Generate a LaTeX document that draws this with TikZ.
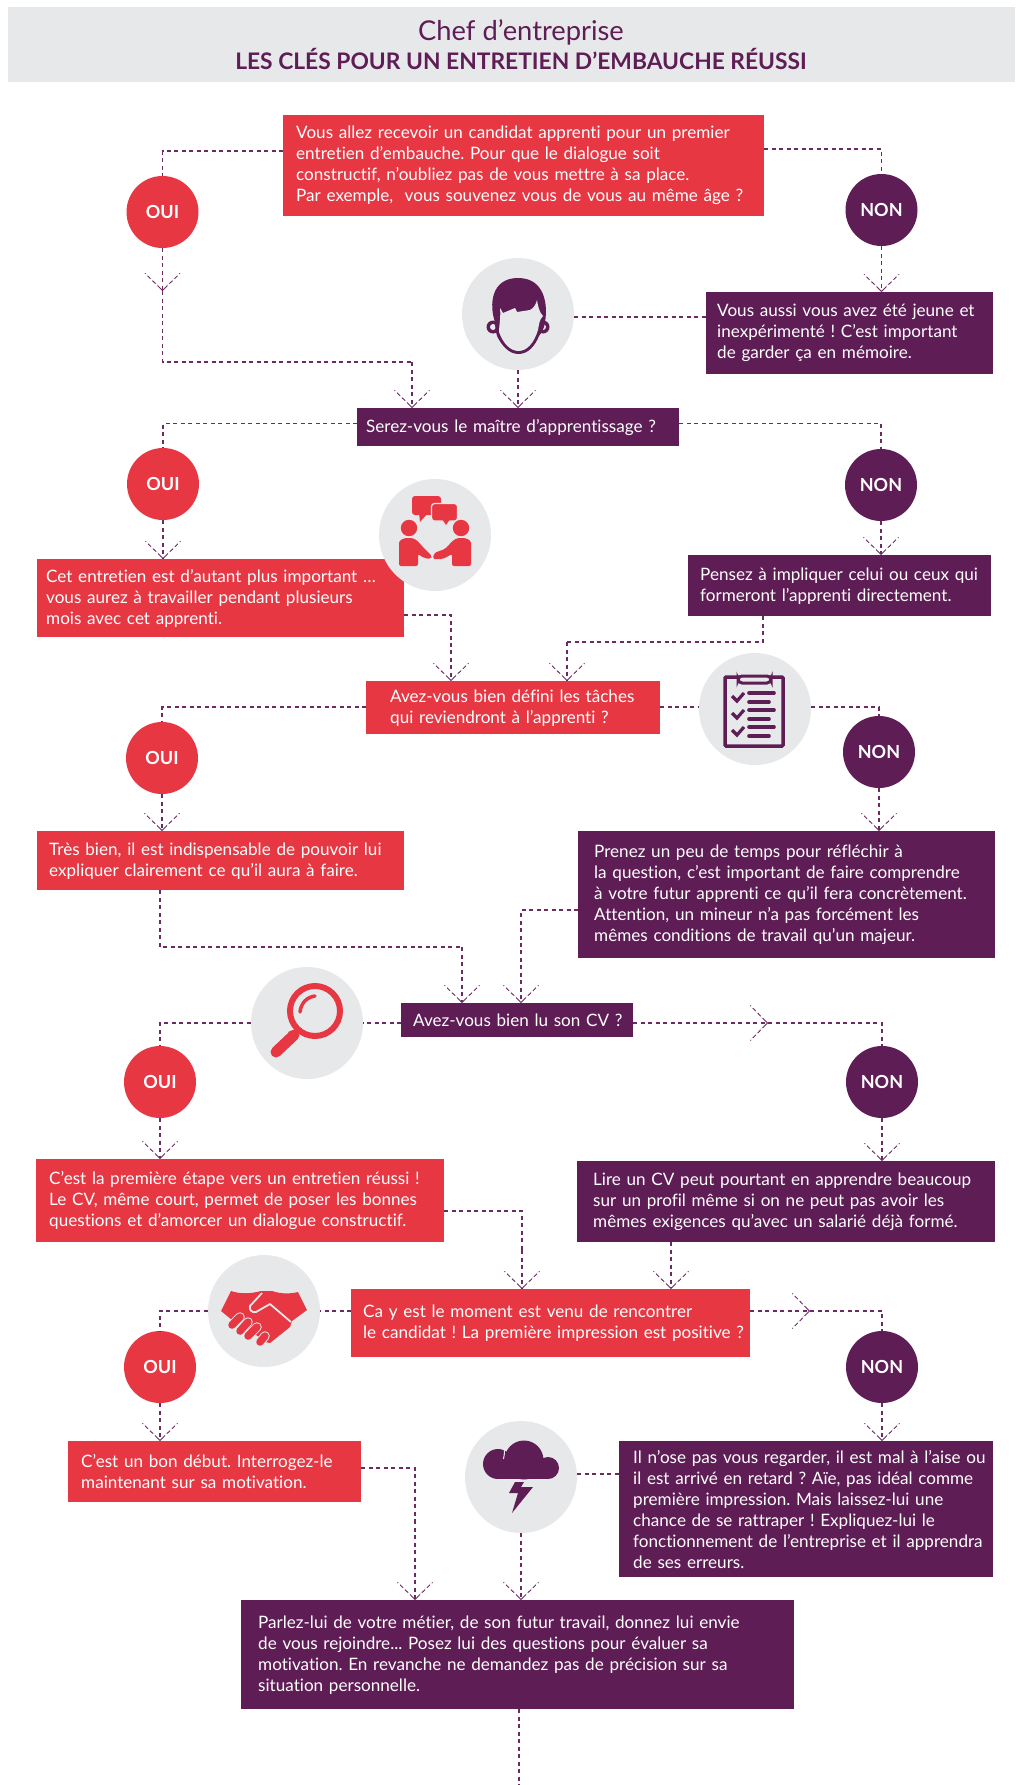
\documentclass[tikz,border=0pt]{standalone}
\usepackage{fontspec}
\setmainfont{Lato}[Ligatures=NoCommon]
\usetikzlibrary{arrows.meta}
\definecolor{cred}{HTML}{E73743}
\definecolor{cpur}{HTML}{5F1D56}
\definecolor{cgrey}{HTML}{E7E8EA}
\definecolor{clink}{HTML}{6B2A62}
\newcommand\Ln[1]{\mbox{#1}\\}
% white gaps that make a barb's two legs look dashed
\newcommand\gapsdown[1]{\draw[barbgap] ([shift={(-17,-17)}]#1) -- ([shift={(-3,-3)}]#1);\draw[barbgap] ([shift={(17,-17)}]#1) -- ([shift={(3,-3)}]#1);}
\newcommand\gapsright[1]{\draw[barbgap] ([shift={(-17,-17)}]#1) -- ([shift={(-3,-3)}]#1);\draw[barbgap] ([shift={(-17,17)}]#1) -- ([shift={(-3,3)}]#1);}
\tikzset{
  x=1pt,y=-1pt,
  txt/.style={font=\fontsize{17.1}{21}\selectfont\frenchspacing,text=white,align=left,anchor=north west,inner ysep=0pt,rectangle},
  redbox/.style={txt,fill=cred},
  purbox/.style={txt,fill=cpur},
  answer/.style={circle,minimum size=72pt,inner sep=0pt,text=white,font=\fontsize{18}{20}\bfseries\selectfont},
  oui/.style={answer,fill=cred},
  non/.style={answer,fill=cpur},
  icon/.style={circle,fill=cgrey,minimum size=112pt,inner sep=0pt},
  link/.style={draw=clink,line width=1.1pt,dash pattern=on 4pt off 3.5pt},
  arr/.style={link,-{Straight Barb[length=17pt,width=35pt,line width=0.9pt,color=clink]}},
  barbgap/.style={draw=white,line width=1.8pt,dash pattern=on 2.5pt off 4.5pt},
}
\begin{document}
\begin{tikzpicture}
\useasboundingbox (0,0) rectangle (1015,1785);
% header
\node[fill=cgrey,anchor=north west,minimum width=1007pt,minimum height=75pt,inner sep=0pt] (head) at (8,7) {};
\node[text=cpur,font=\fontsize{27.3}{30}\selectfont,inner sep=0pt] (t1) at (521,32) {Chef d’entreprise};
\node[text=cpur,font=\fontsize{22.8}{26}\bfseries\selectfont,inner sep=0pt] (t2) at (521,59) {LES CLÉS POUR UN ENTRETIEN D’EMBAUCHE RÉUSSI};
% boxes
\node[redbox,inner xsep=13pt,text width=455pt,minimum height=101pt] (b1) at (283,115) {\Ln{Vous allez recevoir un candidat apprenti pour un premier}\Ln{entretien d’embauche. Pour que le dialogue soit}\Ln{constructif, n’oubliez pas de vous mettre à sa place.}\mbox{Par exemple,\ \ vous souvenez vous de vous au même âge ?}};
\node[purbox,inner xsep=11pt,text width=265pt,minimum height=82pt] (b2) at (706,292) {\Ln{Vous aussi vous avez été jeune et}\Ln{inexpérimenté ! C’est important}\mbox{de garder ça en mémoire.}};
\node[purbox,inner xsep=9pt,text width=304pt,minimum height=38pt] (q1) at (357,408) {\mbox{Serez-vous le maître d’apprentissage ?}};
\node[redbox,inner xsep=9pt,text width=349pt,minimum height=78pt] (b3) at (37,559) {\Ln{Cet entretien est d’autant plus important …}\Ln{vous aurez à travailler pendant plusieurs}\mbox{mois avec cet apprenti.}};
\node[purbox,inner xsep=12pt,text width=279pt,minimum height=61pt] (b4) at (688,555) {\Ln{Pensez à impliquer celui ou ceux qui}\mbox{formeront l’apprenti directement.}};
\node[redbox,inner xsep=24pt,text width=246pt,minimum height=53pt] (q2) at (366,681) {\Ln{Avez-vous bien défini les tâches}\mbox{qui reviendront à l’apprenti ?}};
\node[redbox,inner xsep=12pt,text width=343pt,minimum height=59pt] (b5) at (37,831) {\Ln{Très bien, il est indispensable de pouvoir lui}\mbox{expliquer clairement ce qu’il aura à faire.}};
\node[purbox,inner xsep=16pt,text width=385pt,minimum height=127pt] (b6) at (578,831) {\Ln{Prenez un peu de temps pour réfléchir à}\Ln{la question, c’est important de faire comprendre}\Ln{à votre futur apprenti ce qu’il fera concrètement.}\Ln{Attention, un mineur n’a pas forcément les}\mbox{mêmes conditions de travail qu’un majeur.}};
\node[purbox,inner xsep=12pt,text width=208pt,minimum height=34pt] (q3) at (401,1003) {\mbox{Avez-vous bien lu son CV ?}};
\node[redbox,inner xsep=13pt,text width=382pt,minimum height=83pt] (b7) at (36,1159) {\Ln{C’est la première étape vers un entretien réussi !}\Ln{Le CV, même court, permet de poser les bonnes}\mbox{questions et d’amorcer un dialogue constructif.}};
\node[purbox,inner xsep=16pt,text width=386pt,minimum height=81pt] (b8) at (577,1161) {\Ln{Lire un CV peut pourtant en apprendre beaucoup}\Ln{sur un profil même si on ne peut pas avoir les}\mbox{mêmes exigences qu’avec un salarié déjà formé.}};
\node[redbox,inner xsep=12pt,text width=375pt,minimum height=68pt] (q4) at (351,1289) {\Ln{Ca y est le moment est venu de rencontrer}\mbox{le candidat ! La première impression est positive ?}};
\node[redbox,inner xsep=13pt,text width=267pt,minimum height=61pt] (b9) at (68,1441) {\Ln{C’est un bon début. Interrogez-le}\mbox{maintenant sur sa motivation.}};
\node[purbox,inner xsep=14pt,text width=346pt,minimum height=136pt] (b10) at (619,1441) {\Ln{Il n’ose pas vous regarder, il est mal à l’aise ou}\Ln{il est arrivé en retard ? Aïe, pas idéal comme}\Ln{première impression. Mais laissez-lui une}\Ln{chance de se rattraper ! Expliquez-lui le}\Ln{fonctionnement de l’entreprise et il apprendra}\mbox{de ses erreurs.}};
\node[purbox,inner xsep=17pt,text width=519pt,minimum height=109pt] (b11) at (241,1600) {\Ln{Parlez-lui de votre métier, de son futur travail, donnez lui envie}\Ln{de vous rejoindre... Posez lui des questions pour évaluer sa}\Ln{motivation. En revanche ne demandez pas de précision sur sa}\mbox{situation personnelle.}};
% answers
\node[oui] (o1) at (162.5,212) {OUI};
\node[non] (n1) at (881.5,210) {NON};
\node[oui] (o2) at (163,484) {OUI};
\node[non] (n2) at (881,485) {NON};
\node[oui] (o3) at (162,758) {OUI};
\node[non] (n3) at (879,752) {NON};
\node[oui] (o4) at (160,1082) {OUI};
\node[non] (n4) at (882,1082) {NON};
\node[oui] (o5) at (160,1367) {OUI};
\node[non] (n5) at (882,1367) {NON};
% icon discs
\node[icon] (i1) at (518,314) {};
\node[icon] (i2) at (435,535) {};
\node[icon] (i3) at (755,709) {};
\node[icon] (i4) at (307,1023) {};
\node[icon] (i5) at (264,1311) {};
\node[icon] (i6) at (521,1477) {};
% face
\fill[cpur] (493,327) circle (6.5);
\fill[cpur] (543,327) circle (6.5);
\fill[cgrey] (493,327) circle (3);
\fill[cgrey] (543,327) circle (3);
\fill[cpur] (495,322) .. controls (489,305) and (491,278) .. (518,278) .. controls (545,278) and (548,305) .. (545,322) .. controls (544,330) and (541,333) .. (539,336) .. controls (535,346) and (528,354) .. (518.5,354) .. controls (509,354) and (502,346) .. (497,336) .. controls (496,332) and (495,328) .. (495,322) -- cycle;
\fill[cgrey] (500,308) -- (503,313) -- (515,308) -- (517,312) -- (530,310) .. controls (534,308) and (536,304) .. (537,300) .. controls (538,306) and (539,312) .. (543,316) .. controls (539,320) and (539,325) .. (538,330) .. controls (534,343) and (527,351) .. (518.5,351) .. controls (510,351) and (503,343) .. (499,332) .. controls (499,325) and (501,318) .. (500,308) -- cycle;
% conference
\fill[cred,rounded corners=3pt] (412,496) rectangle (441,515);
\fill[cred] (419,513) -- (420,522) -- (428,513) -- cycle;
\draw[cgrey,fill=cred,line width=1.2pt,rounded corners=3pt] (431.5,503.5) rectangle (457.5,521);
\fill[cred] (442,519) -- (446,525) -- (450,519) -- cycle;
\fill[cred] (409,528) circle (8.2);
\fill[cred] (461,528) circle (8.2);
\fill[cred,rounded corners=2pt] (399,566) -- (399,545) .. controls (399,540) and (404,538) .. (409,538) .. controls (416,538) and (420,544) .. (424,548) -- (432,556) -- (431,559) -- (424,558) -- (418,554) -- (418,566) -- cycle;
\fill[cred,rounded corners=2pt] (471,566) -- (471,545) .. controls (471,540) and (466,538) .. (461,538) .. controls (454,538) and (450,544) .. (445,549) -- (434,553) -- (433,559) -- (443,559) -- (452,554) -- (452,566) -- cycle;
% clipboard
\draw[cpur,line width=3.5pt,rounded corners=1pt] (725,677) rectangle (783,746);
\draw[cpur,fill=cgrey,line width=3pt,rounded corners=4pt] (738,676) rectangle (771,683);
\foreach \d in {0,17,34}{
  \draw[cpur,line width=3.2pt] (732,696+\d) -- (737,701+\d) -- (744,693+\d);
  \draw[cpur,line width=3.6pt,line cap=round] (749,693+\d) -- (774,693+\d);
  \draw[cpur,line width=3.6pt,line cap=round] (749,702+\d) -- (769,702+\d);
}
% magnifier
\draw[cred,line width=6pt] (315,1011) circle (25);
\draw[cred,line width=3.5pt,line cap=round] (300,1012) .. controls (301,1003) and (307,997) .. (315,996);
\draw[cred,line width=11pt,line cap=round] (294,1035) -- (276,1052);
\fill[cred] (288,1032) -- (295,1030) -- (297,1039) -- cycle;
% handshake
\fill[cred] (231,1291) .. controls (240,1294) and (250,1294) .. (261,1291) -- (272,1291) .. controls (281,1294) and (290,1294) .. (298,1292) -- (307,1310) -- (292,1321) -- (290,1327) -- (270,1343) -- (265,1342) -- (240,1322) -- (232,1320) -- (221,1311) -- cycle;
\draw[cgrey,line width=1.8pt,line join=round] (262,1293) -- (250,1306) .. controls (249,1310) and (252,1313) .. (256,1312) -- (270,1304) -- (291,1322);
\foreach \a/\b/\c/\e in {240/1317/232/1325,248/1322/240/1331,257/1327/248/1336,265/1336/260/1342}{
  \draw[cgrey,line width=9.5pt,line cap=round] (\a,\b) -- (\c,\e);
}
\foreach \a/\b/\c/\e in {240/1317/232/1325,248/1322/240/1331,257/1327/248/1336,265/1336/260/1342}{
  \draw[cred,line width=7.5pt,line cap=round] (\a,\b) -- (\c,\e);
}
% cloud
\fill[cpur] (498,1464) circle (15);
\fill[cpur] (524,1460) circle (19.5);
\fill[cpur] (548,1468) circle (11);
\fill[cpur] (498,1462) rectangle (548,1479);
\draw[cgrey,line width=1pt] (504,1449) .. controls (505,1452) and (504,1456) .. (503.5,1459);
\fill[cpur] (515,1482) -- (524,1482) -- (521,1487) -- (533,1487) -- (512,1513) -- (518,1493) -- (509,1493) -- cycle;
% connectors
\coordinate (m1) at (162.5,291);
\coordinate (m2) at (768,1023);
\coordinate (m3) at (810,1311);
\draw[link] (b1.west |- 0,151) -| (o1.north);
\draw[link] (b1.east |- 0,149) -| (n1.north);
\draw[arr] (o1.south) -- (m1);
\draw[link] (m1) |- (412,362);
\draw[arr] (412,362) -- (q1.north -| 412,0);
\draw[arr] (n1.south) -- (b2.north -| n1.south);
\draw[link] (i1.east |- 0,317) -- (b2.west |- 0,317);
\draw[arr] (i1.south) -- (q1.north -| i1.south);
\draw[link] (q1.west |- 0,423.5) -| (o2.north);
\draw[link] (q1.east |- 0,423.5) -| (n2.north);
\draw[arr] (o2.south) -- (b3.north -| o2.south);
\draw[arr] (n2.south) -- (b4.north -| n2.south);
\draw[link] (b3.east |- 0,615) -| (451,650);
\draw[arr] (451,650) -- (q2.north -| 451,0);
\draw[link] (b4.south -| 763,0) |- (567,642);
\draw[arr] (567,642) -- (q2.north -| 567,0);
\draw[link] (q2.west |- 0,707) -| (o3.north);
\draw[link] (q2.east |- 0,707) -- (i3.west |- 0,707);
\draw[link] (i3.east |- 0,707) -| (n3.north);
\draw[arr] (o3.south) -- (b5.north -| o3.south);
\draw[arr] (n3.south) -- (b6.north -| n3.south);
\draw[link] (b5.south -| 160,0) |- (462,947);
\draw[arr] (462,947) -- (q3.north -| 462,0);
\draw[link] (b6.west |- 0,910) -| (521,950);
\draw[arr] (521,950) -- (q3.north -| 521,0);
\draw[link] (q3.west |- 0,1023) -- (i4.east);
\draw[link] (i4.west) -| (o4.north);
\draw[arr] (q3.east |- 0,1023) -- (m2);
\draw[link] (m2) -| (n4.north);
\draw[arr] (o4.south) -- (b7.north -| o4.south);
\draw[arr] (n4.south) -- (b8.north -| n4.south);
\draw[link] (b7.east |- 0,1211) -| (522,1250);
\draw[arr] (522,1250) -- (q4.north -| 522,0);
\draw[arr] (b8.south -| 671,0) -- (q4.north -| 671,0);
\draw[link] (q4.west |- 0,1311) -- (i5.east);
\draw[link] (i5.west) -| (o5.north);
\draw[arr] (q4.east |- 0,1311) -- (m3);
\draw[link] (m3) -| (n5.north);
\draw[arr] (o5.south) -- (b9.north -| o5.south);
\draw[arr] (n5.south) -- (b10.north -| n5.south);
\draw[link] (b9.east |- 0,1468) -| (415,1520);
\draw[arr] (415,1520) -- (b11.north -| 415,0);
\draw[link] (i6.east |- 0,1474) -- (b10.west |- 0,1474);
\draw[arr] (i6.south) -- (b11.north -| i6.south);
\coordinate (endline) at (519,1785);
\draw[link] (b11.south -| 519,0) -- (endline);
% dashes on the barbs
\gapsdown{m1}
\gapsdown{412,408}
\gapsdown{518,408}
\gapsdown{881.5,292}
\gapsdown{163,559}
\gapsdown{881,555}
\gapsdown{451,681}
\gapsdown{567,681}
\gapsdown{162,831}
\gapsdown{879,831}
\gapsdown{462,1003}
\gapsdown{521,1003}
\gapsright{m2}
\gapsdown{160,1159}
\gapsdown{882,1161}
\gapsdown{522,1289}
\gapsdown{671,1289}
\gapsright{m3}
\gapsdown{160,1441}
\gapsdown{882,1441}
\gapsdown{415,1600}
\gapsdown{521,1600}
\end{tikzpicture}
\end{document}
